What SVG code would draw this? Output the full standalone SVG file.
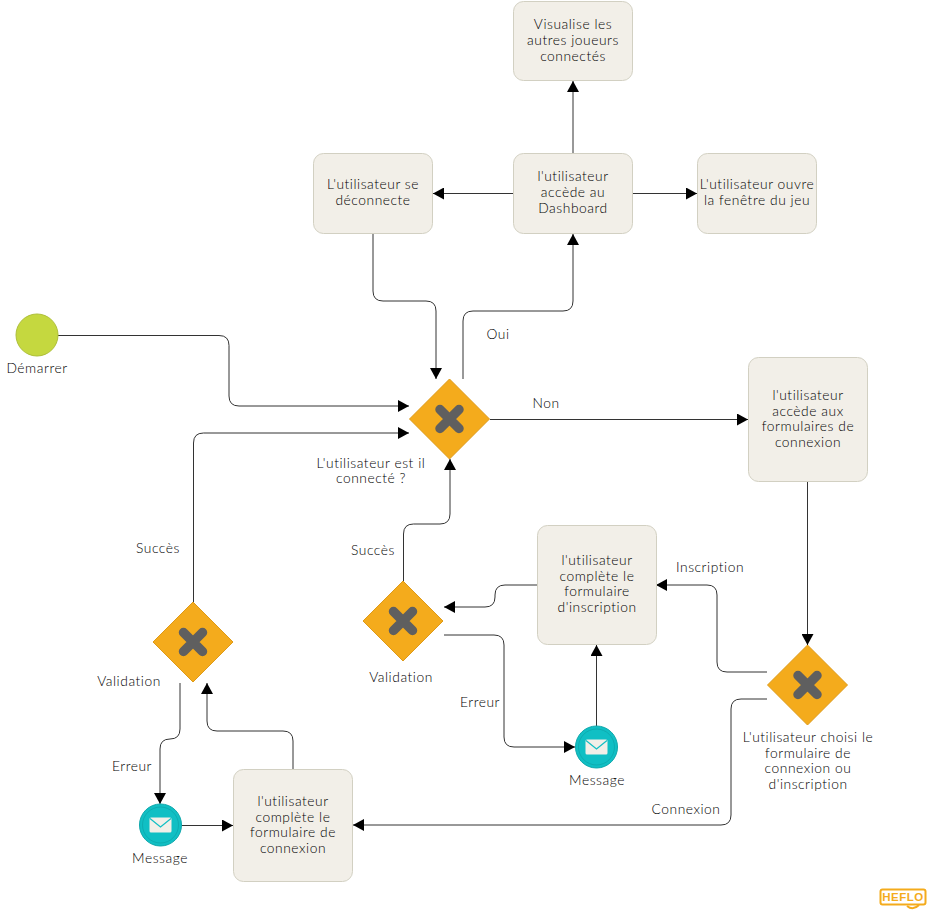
<svg xmlns="http://www.w3.org/2000/svg" width="930" height="913" viewBox="0 0 930 913">
<style>
text{font-family:"Lato","Open Sans","Liberation Sans",sans-serif;font-size:13.8px;font-weight:300;letter-spacing:.55px;fill:#000;text-anchor:middle}
.task{fill:#f2efe8;stroke:#d2d0c2;stroke-width:1}
.gw{fill:#f4ab1c;stroke:#de9a18;stroke-width:1}
.x{stroke:#5f5f5f;stroke-width:9.5;stroke-linecap:round;fill:none}
.c{fill:none;stroke:#333;stroke-width:1}
.msg{fill:#10bfc4;stroke:#0ea7ab}
.ring{fill:none;stroke:#0ea7ab;stroke-width:.8}
.env{fill:#f2efe8}
.flap{fill:none;stroke:#10bfc4;stroke-width:1.2}
</style>
<defs>
<marker id="a" markerWidth="12" markerHeight="12" refX="11" refY="6" orient="auto" markerUnits="userSpaceOnUse"><path d="M0 0L11 6L0 12Z" fill="#000"/></marker>
<g id="gwshape"><path class="gw" d="M0-40L40 0L0 40L-40 0Z"/><path class="x" d="M-9.500-9.500L9.500 9.500M9.500-9.500L-9.500 9.500"/></g>
<g id="msgshape"><circle class="msg" r="21"/><circle class="ring" r="18"/><rect class="env" x="-11" y="-7.500" width="22" height="15" rx="1.500"/><path class="flap" d="M-10.500-6.500L0 2L10.500-6.500"/></g>
</defs>
<g id="connectors">
<path class="c" marker-end="url(#a)" d="M58 335.500H219Q229 335.500 229 345.500V396Q229 406 239 406H409"/>
<path class="c" marker-end="url(#a)" d="M373 234V291Q373 301 383 301H426Q436 301 436 311V379"/>
<path class="c" marker-end="url(#a)" d="M463 379V321Q463 311 473 311H563Q573 311 573 301V234"/>
<path class="c" marker-end="url(#a)" d="M513 193.500H433"/>
<path class="c" marker-end="url(#a)" d="M633 193.500H697"/>
<path class="c" marker-end="url(#a)" d="M573 153V81"/>
<path class="c" marker-end="url(#a)" d="M490 419.500H748"/>
<path class="c" marker-end="url(#a)" d="M807.500 482V645"/>
<path class="c" marker-end="url(#a)" d="M767 672H727Q717 672 717 662V595Q717 585 707 585H656"/>
<path class="c" marker-end="url(#a)" d="M537 585H505Q495 585 495 595V597Q495 607 485 607H444"/>
<path class="c" marker-end="url(#a)" d="M403.500 581V534Q403.500 524 413.500 524H440Q450 524 450 514V459"/>
<path class="c" marker-end="url(#a)" d="M444 635H494Q504 635 504 645V737Q504 747 514 747H575"/>
<path class="c" marker-end="url(#a)" d="M596.500 726V645"/>
<path class="c" marker-end="url(#a)" d="M767 699H741Q731 699 731 709V815Q731 825 721 825H353"/>
<path class="c" marker-end="url(#a)" d="M293 769V741Q293 731 283 731H217Q207 731 207 721V683"/>
<path class="c" marker-end="url(#a)" d="M180 683V729Q180 739 170 739H170Q160 739 160 749V804"/>
<path class="c" marker-end="url(#a)" d="M182 825.500H233"/>
<path class="c" marker-end="url(#a)" d="M193.500 602V443Q193.500 433 203.500 433H409"/>
</g>
<g id="start"><circle cx="37" cy="335" r="21" fill="#c5d83f" stroke="#aebf38"/><text x="37" y="372.500">Démarrer</text></g>
<g id="task-autres"><rect class="task" x="513.500" y="1.500" width="119" height="79" rx="10"/><text x="573" y="29">Visualise les</text><text x="573" y="45">autres joueurs</text><text x="573" y="61">connectés</text></g>
<g id="task-deconnecte"><rect class="task" x="313.500" y="153.500" width="119" height="80" rx="10"/><text x="373" y="189">L'utilisateur se</text><text x="373" y="204.700">déconnecte</text></g>
<g id="task-dashboard"><rect class="task" x="513.500" y="153.500" width="119" height="80" rx="10"/><text x="573" y="181">l'utilisateur</text><text x="573" y="196.700">accède au</text><text x="573" y="212.700">Dashboard</text></g>
<g id="task-jeu"><rect class="task" x="697.500" y="153.500" width="119" height="80" rx="10"/><text x="757" y="189">L'utilisateur ouvre</text><text x="757" y="204.700">la fenêtre du jeu</text></g>
<g id="task-formulaires"><rect class="task" x="748.500" y="357.500" width="119" height="124" rx="10"/><text x="808" y="400">l'utilisateur</text><text x="808" y="415.700">accède aux</text><text x="808" y="431.400">formulaires de</text><text x="808" y="447">connexion</text></g>
<g id="task-inscription"><rect class="task" x="537.500" y="525.500" width="119" height="119" rx="10"/><text x="597" y="565">l'utilisateur</text><text x="597" y="580.700">complète le</text><text x="597" y="596.400">formulaire</text><text x="597" y="612">d'inscription</text></g>
<g id="task-connexion"><rect class="task" x="233.500" y="769.500" width="119" height="112" rx="10"/><text x="293" y="806">l'utilisateur</text><text x="293" y="821.700">complète le</text><text x="293" y="837.400">formulaire de</text><text x="293" y="853">connexion</text></g>
<g id="gw-connecte"><use href="#gwshape" x="449.500" y="419"/><text x="371" y="467.500">L'utilisateur est il</text><text x="371" y="483">connecté ?</text></g>
<g id="gw-validation1"><use href="#gwshape" x="403" y="621"/><text x="401" y="682">Validation</text></g>
<g id="gw-validation2"><use href="#gwshape" x="193" y="642"/><text x="129" y="686">Validation</text></g>
<g id="gw-choix"><use href="#gwshape" x="807.500" y="685"/><text x="808" y="742">L'utilisateur choisi le</text><text x="808" y="757.700">formulaire de</text><text x="808" y="773.400">connexion ou</text><text x="808" y="789">d'inscription</text></g>
<g id="msg1"><use href="#msgshape" x="596.500" y="747"/><text x="597" y="785">Message</text></g>
<g id="msg2"><use href="#msgshape" x="160.500" y="825"/><text x="160" y="863">Message</text></g>
<g id="labels">
<text x="498" y="339">Oui</text>
<text x="546" y="408">Non</text>
<text x="710" y="572">Inscription</text>
<text x="373" y="555">Succès</text>
<text x="158" y="553">Succès</text>
<text x="480" y="707">Erreur</text>
<text x="132" y="771">Erreur</text>
<text x="686" y="814">Connexion</text>
</g>
<g id="heflo"><rect x="880.500" y="889.500" width="45" height="15" rx="2" fill="#fff" stroke="#f4ab1c" stroke-width="2"/><text x="903" y="901" style="font-family:'Liberation Sans',sans-serif;font-size:11.500px;font-weight:700;fill:#f4ab1c;letter-spacing:.5px">HEFLO</text><path d="M907 906Q913 911 919 905" fill="none" stroke="#f4ab1c" stroke-width="2"/></g>
</svg>
